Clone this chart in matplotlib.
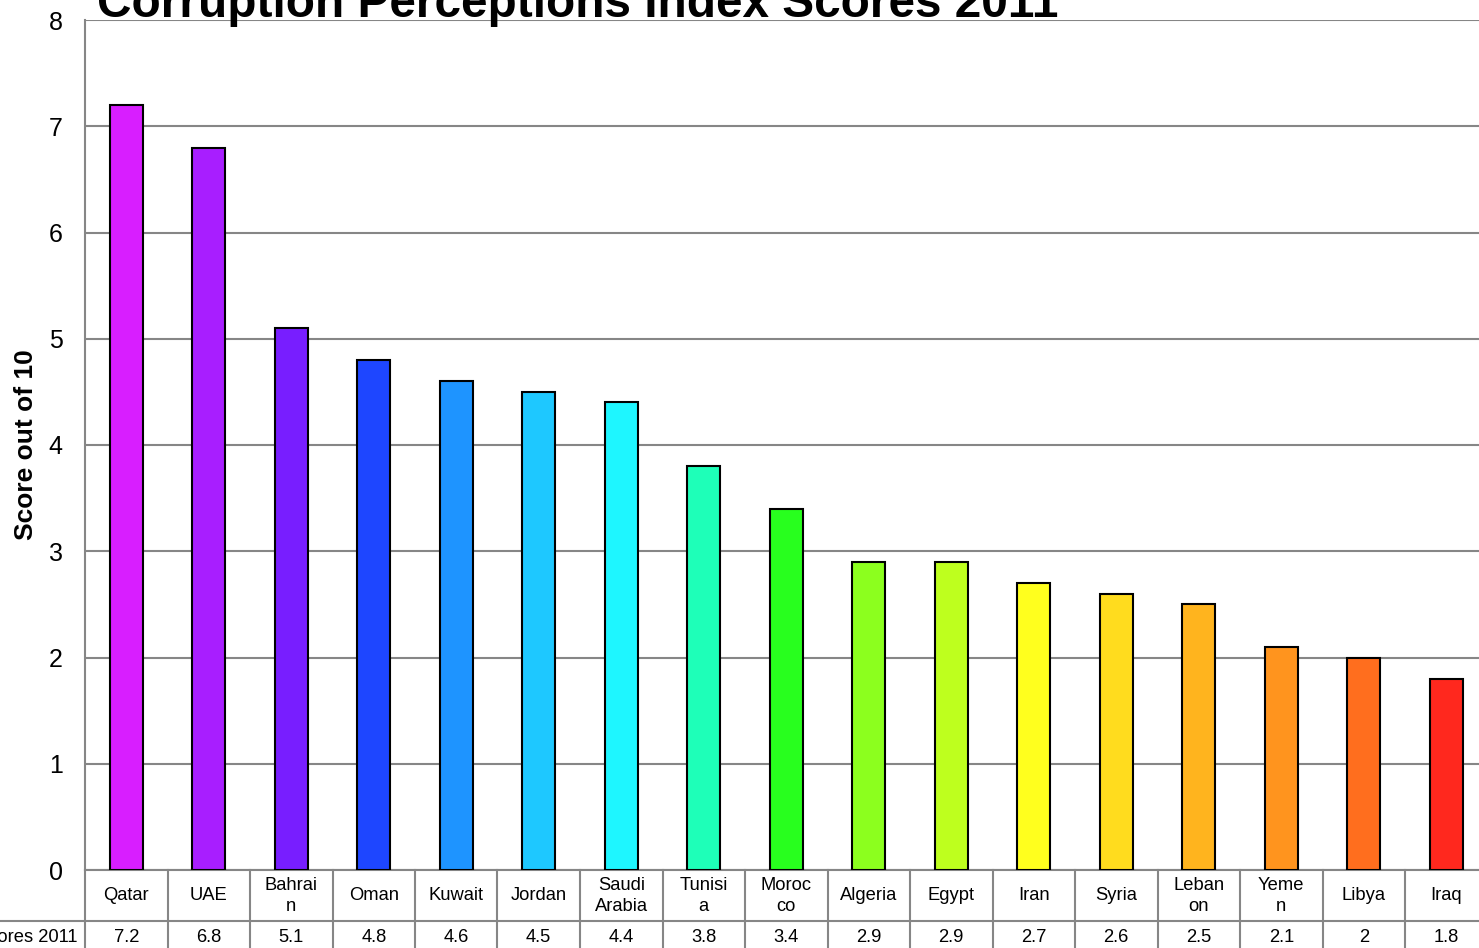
import matplotlib.pyplot as plt

plt.rcParams['font.family'] = ['Liberation Sans', 'DejaVu Sans']

countries = ['Qatar', 'UAE', 'Bahrain', 'Oman', 'Kuwait', 'Jordan', 'Saudi\nArabia',
             'Tunisia', 'Morocco', 'Algeria', 'Egypt', 'Iran', 'Syria', 'Lebanon',
             'Yemen', 'Libya', 'Iraq']
# how the names wrap inside the narrow table cells
cell_names = ['Qatar', 'UAE', 'Bahrai\nn', 'Oman', 'Kuwait', 'Jordan', 'Saudi\nArabia',
              'Tunisi\na', 'Moroc\nco', 'Algeria', 'Egypt', 'Iran', 'Syria', 'Leban\non',
              'Yeme\nn', 'Libya', 'Iraq']
scores = [7.2, 6.8, 5.1, 4.8, 4.6, 4.5, 4.4, 3.8, 3.4, 2.9, 2.9, 2.7, 2.6, 2.5, 2.1, 2, 1.8]
colors = ['#D81EFF', '#A81EFF', '#781EFF', '#1E46FF', '#1E94FF', '#1EC8FF', '#1EF6FF',
          '#1EFFB8', '#28FF1E', '#8CFF1E', '#BEFF1E', '#FFFF1E', '#FFDC1E', '#FFB41E',
          '#FF941E', '#FF6E1E', '#FF281E']
series_name = 'Scores 2011'

W, H = 1479, 948
fig = plt.figure(figsize=(W / 100, H / 100), dpi=100)
left, right, top, bottom = 85, 1487.5, 20, 870
ax = fig.add_axes([left / W, 1 - bottom / H, (right - left) / W, (bottom - top) / H])

n = len(scores)
x = list(range(n))
ax.bar(x, scores, width=0.4, color=colors, edgecolor='black', linewidth=1.5, zorder=3)

ax.set_xlim(-0.5, n - 0.5)
ax.set_ylim(0, 8)
ax.set_yticks(range(0, 9))
ax.tick_params(axis='y', length=0, pad=16, labelsize=18)
ax.set_xticks([])
ax.yaxis.grid(True, color='#868686', linewidth=1.5, zorder=0)
for side in ['top', 'right']:
    ax.spines[side].set_visible(False)
for side in ['left', 'bottom']:
    ax.spines[side].set_color('#868686')
    ax.spines[side].set_linewidth(1.5)

ax.set_ylabel('Score out of 10', fontsize=19, fontweight='bold', labelpad=8)
fig.text(97 / W, 1 - 17 / H, 'Corruption Perceptions Index Scores 2011',
         fontsize=34.4, fontweight='bold', ha='left', va='baseline')

# data table under the plot, in pixel coordinates
def fy(py):
    return 1 - py / H

def fx(px):
    return px / W

grid_kw = dict(color='#868686', linewidth=1.5, transform=fig.transFigure, clip_on=False)
row_mid = 921
row_end = 975
colw = (right - left) / n
fig.add_artist(plt.Line2D([fx(0), fx(right)], [fy(row_mid), fy(row_mid)], **grid_kw))
for i in range(n + 1):
    xp = left + i * colw
    fig.add_artist(plt.Line2D([fx(xp), fx(xp)], [fy(bottom), fy(row_end)], **grid_kw))
for i in range(n):
    cx = left + (i + 0.5) * colw
    fig.text(fx(cx), fy(896), cell_names[i], ha='center', va='center',
             fontsize=13.2, linespacing=1.25)
    fig.text(fx(cx), fy(937), f'{scores[i]:g}', ha='center', va='center', fontsize=13.2)
fig.text(fx(78), fy(937), series_name, ha='right', va='center', fontsize=13.2)

fig.savefig('out.png', dpi=100)
